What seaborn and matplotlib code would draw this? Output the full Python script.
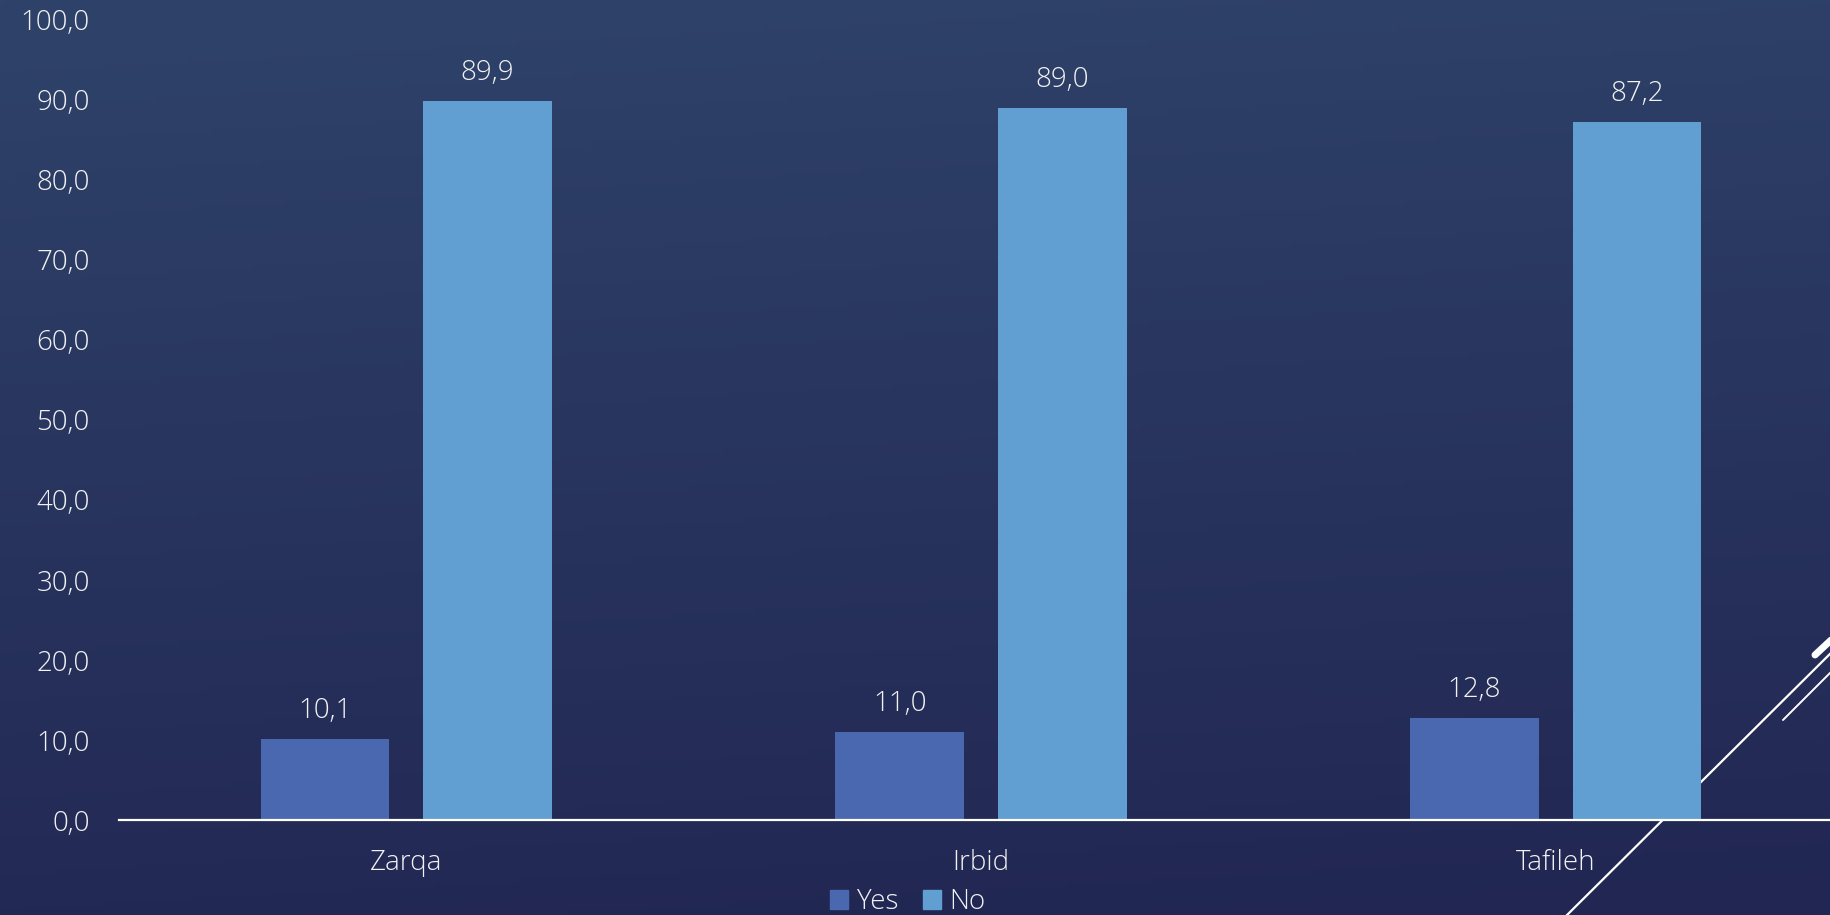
import numpy as np
import pandas as pd
import seaborn as sns
import matplotlib.pyplot as plt
from matplotlib.lines import Line2D
from matplotlib.ticker import FuncFormatter

regions = ["Zarqa", "Irbid", "Tafileh"]
yes_values = [10.1, 11.0, 12.8]
no_values = [89.9, 89.0, 87.2]
answers = ["Yes", "No"]
colors = ["#4A68B0", "#619ED2"]

df = pd.DataFrame({
    "region": regions * 2,
    "answer": ["Yes"] * 3 + ["No"] * 3,
    "value": yes_values + no_values,
})

sns.set_style("white")
plt.rcParams["font.family"] = ["Open Sans", "DejaVu Sans"]
plt.rcParams["font.weight"] = 300
text_color = "#F2F2F2"
fs = 20

W, H = 1831, 915
fig = plt.figure(figsize=(W / 100, H / 100), dpi=100)

# gradient background, lighter at the top
bg = fig.add_axes([0, 0, 1, 1], zorder=-10)
top = np.array([47, 67, 106]) / 255
bottom = np.array([33, 38, 82]) / 255
yy, xx = np.mgrid[0:1:200j, 0:1:400j]
t = np.clip(yy * 0.9 + xx * 0.1, 0, 1)[..., None]
bg.imshow(top * (1 - t) + bottom * t, aspect="auto", extent=[0, 1, 0, 1])
bg.axis("off")

# decorative lines at the bottom right (behind the chart)
for (x0, y0), (x1, y1), lw in [
    ((1560, 922), (1845, 639), 1.6),
    ((1783, 720), (1845, 658), 1.4),
]:
    fig.add_artist(Line2D([x0 / W, x1 / W], [1 - y0 / H, 1 - y1 / H],
                          color="white", lw=lw, zorder=-5))
fig.add_artist(Line2D([1815 / W, 1845 / W], [1 - 655 / H, 1 - 627 / H],
                      color="white", lw=5, solid_capstyle="round", zorder=-5))

ax = fig.add_axes([0.065, 0.1038, 0.9416, 0.8744])
ax.set_facecolor("none")
sns.barplot(data=df, x="region", y="value", hue="answer", hue_order=answers,
            palette=colors, saturation=1, width=0.566, gap=0.21, linewidth=0, ax=ax)

ax.set_xlim(-0.5, 2.5)
ax.set_ylim(0, 100)
ax.set_yticks(np.arange(0, 101, 10))
ax.yaxis.set_major_formatter(FuncFormatter(lambda v, _: f"{v:.1f}".replace(".", ",")))
ax.tick_params(axis="y", length=0, pad=21, labelsize=fs, labelcolor=text_color)
ax.tick_params(axis="x", length=0, pad=21, labelsize=fs, labelcolor=text_color)
ax.set_xlabel("")
ax.set_ylabel("")
for side in ["top", "right", "left"]:
    ax.spines[side].set_visible(False)
ax.spines["bottom"].set_color("white")
ax.spines["bottom"].set_linewidth(1.6)

for container in ax.containers:
    ax.bar_label(container, labels=[f"{v:.1f}".replace(".", ",") for v in container.datavalues],
                 padding=10, fontsize=fs, color=text_color)

ax.legend_.remove()
handles = [plt.Rectangle((0, 0), 1, 1, color=c) for c in colors]
fig.legend(handles, answers, loc="center", bbox_to_anchor=(908 / W, 1 - 902 / H),
           ncol=2, frameon=False, fontsize=fs, labelcolor=text_color,
           handlelength=0.65, handleheight=0.65, handletextpad=0.3, columnspacing=0.9)

fig.savefig("out.png", dpi=100)
